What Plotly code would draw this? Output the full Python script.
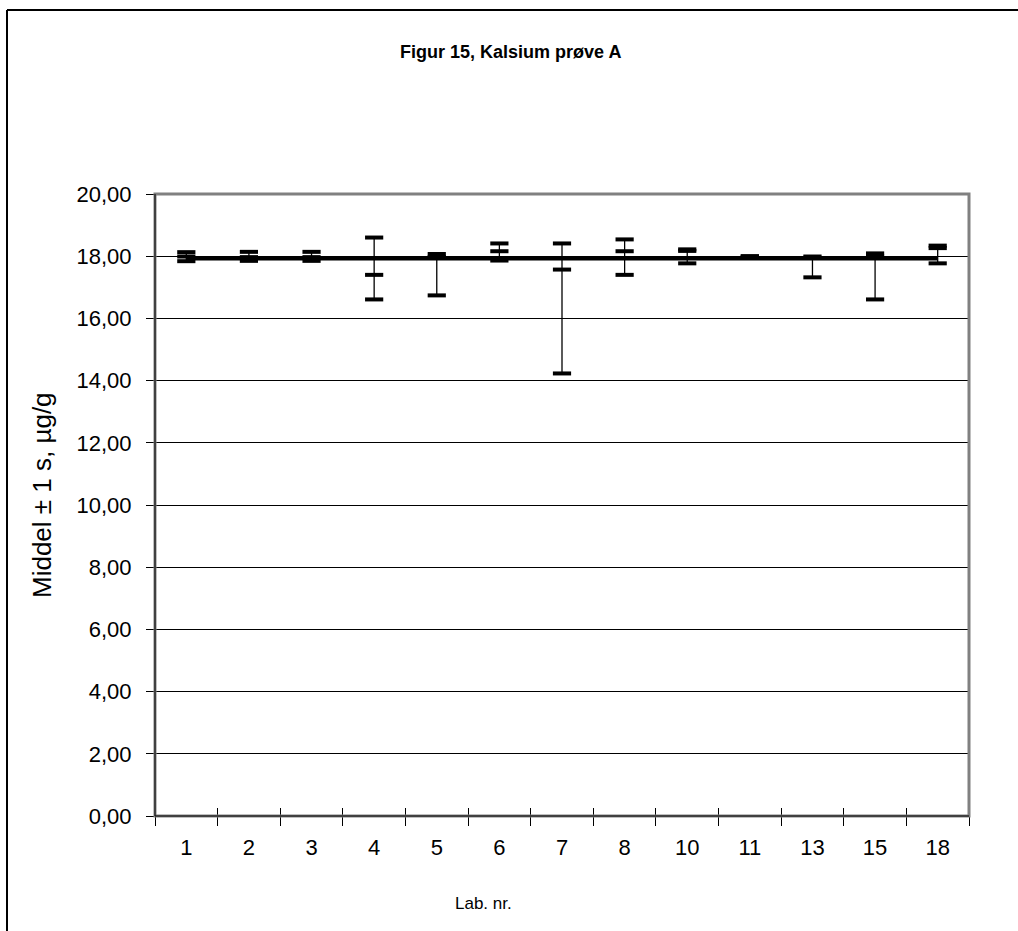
import plotly.graph_objects as go

# Lab numbers (categories) and results: mean ± 1 s, µg/g
labs = ["1", "2", "3", "4", "5", "6", "7", "8", "10", "11", "13", "15", "18"]
high = [18.13, 18.14, 18.14, 18.60, 18.07, 18.41, 18.41, 18.54, 18.22, 18.00, 17.99, 18.09, 18.34]
mean = [17.99, 17.97, 17.97, 17.40, 17.97, 18.16, 17.57, 18.16, 18.17, 17.99, 17.95, 17.99, 18.26]
low = [17.84, 17.85, 17.85, 16.61, 16.74, 17.86, 14.23, 17.40, 17.77, 17.98, 17.32, 16.61, 17.77]
assigned = 17.93

y_ticks = [0, 2, 4, 6, 8, 10, 12, 14, 16, 18, 20]

W, H = 1018, 931
L, R, T, B = 155, 969, 194, 816


def px_x(p):
    return (p - L) / (R - L)


def px_y(p):
    return (B - p) / (B - T)


fig = go.Figure()

# assigned value line
fig.add_trace(go.Scatter(
    x=labs, y=[assigned] * len(labs), mode="lines",
    line=dict(color="black", width=4),
    hoverinfo="skip", showlegend=False,
))

# whiskers from low to high, with the mean mark
fig.add_trace(go.Scatter(
    x=labs, y=mean, mode="markers",
    marker=dict(symbol="line-ew", size=13, line=dict(color="black", width=4)),
    error_y=dict(type="data", symmetric=False,
                 array=[h - m for h, m in zip(high, mean)],
                 arrayminus=[m - l for m, l in zip(mean, low)],
                 color="black", thickness=1.3, width=0),
    showlegend=False,
))
for vals in (high, low):
    fig.add_trace(go.Scatter(
        x=labs, y=vals, mode="markers",
        marker=dict(symbol="line-ew", size=13, line=dict(color="black", width=4)),
        showlegend=False,
    ))

# invisible trace for the inner tick axis
fig.add_trace(go.Scatter(x=labs, y=mean, xaxis="x2", mode="markers",
                         marker=dict(opacity=0), hoverinfo="skip", showlegend=False))

font = "Liberation Sans, Arial, sans-serif"

fig.update_layout(
    width=W, height=H, autosize=False,
    margin=dict(l=L, r=W - R, t=T, b=H - B),
    paper_bgcolor="white", plot_bgcolor="white",
    separators=",.",
    font=dict(family=font, color="black"),
    xaxis=dict(
        type="category", categoryorder="array", categoryarray=labs,
        range=[-0.5, len(labs) - 0.5],
        tickson="boundaries", ticks="outside", ticklen=9, tickcolor="black", tickwidth=1,
        showgrid=False, showline=False, zeroline=False,
        tickfont=dict(size=22, family=font), ticklabelstandoff=16,
    ),
    xaxis2=dict(
        type="category", categoryorder="array", categoryarray=labs,
        range=[-0.5, len(labs) - 0.5], overlaying="x", side="bottom",
        tickson="boundaries", ticks="inside", ticklen=8, tickcolor="black", tickwidth=1,
        showticklabels=False, showgrid=False, showline=False, zeroline=False,
    ),
    yaxis=dict(
        range=[0, 20], tickvals=y_ticks, tickformat=".2f",
        ticks="outside", ticklen=8, tickcolor="black", tickwidth=1,
        showgrid=True, gridcolor="black", gridwidth=1,
        showline=False, zeroline=False,
        tickfont=dict(size=22, family=font), ticklabelstandoff=10,
    ),
)

shapes = [
    # plot area frame
    dict(type="rect", xref="paper", yref="paper", x0=0, x1=1, y0=0, y1=1,
         line=dict(color="#808080", width=3), layer="above"),
    # axis lines
    dict(type="line", xref="paper", yref="paper", x0=0, x1=0, y0=0, y1=1,
         line=dict(color="black", width=1), layer="above"),
    dict(type="line", xref="paper", yref="paper", x0=0, x1=1, y0=0, y1=0,
         line=dict(color="black", width=1), layer="above"),
    # chart border
    dict(type="line", xref="paper", yref="paper", x0=px_x(7), x1=px_x(7), y0=px_y(10), y1=px_y(940),
         line=dict(color="black", width=2), layer="above"),
    dict(type="line", xref="paper", yref="paper", x0=px_x(7), x1=px_x(1030), y0=px_y(10), y1=px_y(10),
         line=dict(color="black", width=2), layer="above"),
]
fig.update_layout(shapes=shapes)

annotations = [
    dict(text="<b>Figur 15, Kalsium prøve A</b>", xref="paper", yref="paper",
         x=px_x(510), y=px_y(52), showarrow=False, font=dict(size=18, family=font),
         xanchor="center", yanchor="middle"),
    dict(text="Middel ± 1 s, µg/g", xref="paper", yref="paper", textangle=-90,
         x=px_x(42), y=px_y(495), showarrow=False, font=dict(size=26, family=font),
         xanchor="center", yanchor="middle"),
    dict(text="Lab. nr.", xref="paper", yref="paper",
         x=px_x(483), y=px_y(903), showarrow=False, font=dict(size=17, family=font),
         xanchor="center", yanchor="middle"),
]
fig.update_layout(annotations=annotations)

fig.write_html("out.html")
